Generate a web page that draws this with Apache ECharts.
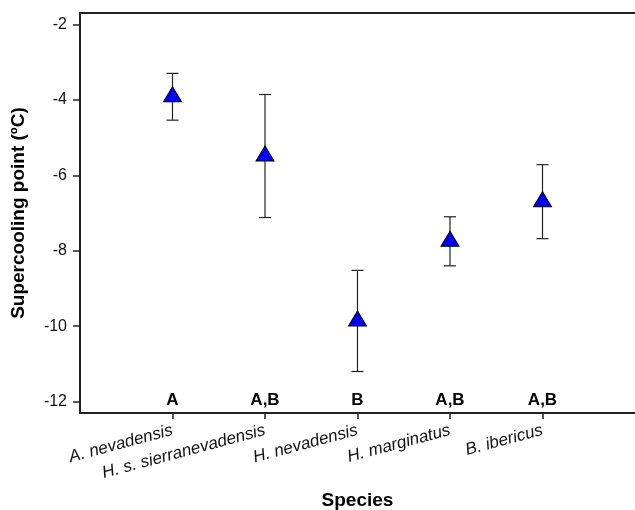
<!DOCTYPE html>
<html>
<head>
<meta charset="utf-8">
<script src="https://cdn.jsdelivr.net/npm/echarts@6/dist/echarts.min.js"></script>
<style>
  html, body { margin: 0; padding: 0; background: #fff; }
  #chart { width: 635px; height: 510px; }
</style>
</head>
<body>
<div id="chart"></div>
<script>
  // species on the x axis (positions 1..5)
  const species = ['A. nevadensis', 'H. s. sierranevadensis', 'H. nevadensis', 'H. marginatus', 'B. ibericus'];
  const positions = [1, 2, 3, 4, 5];
  // mean supercooling point and error (ºC)
  const means = [-3.92, -5.49, -9.86, -7.75, -6.70];
  const errors = [0.62, 1.63, 1.34, 0.65, 0.98];
  // letters of significance groups
  const groups = ['A', 'A,B', 'B', 'A,B', 'A,B'];
  const groupLevel = -12;
  const yTicks = [-12, -10, -8, -6, -4, -2];

  const font = 'Liberation Sans, Arial, sans-serif';
  const axisColor = '#222';

  const chart = echarts.init(document.getElementById('chart'));

  const pointData = positions.map((p, i) => [p, means[i]]);
  const errData = positions.map((p, i) => [p, means[i] - errors[i], means[i] + errors[i]]);
  const groupData = positions.map((p, i) => [p, groupLevel, groups[i]]);

  chart.setOption({
    animation: false,
    grid: { left: 80, right: 0, top: 13, bottom: 97, outerBoundsMode: 'none', containLabel: false },
    xAxis: [
      {
        type: 'value',
        min: 0,
        max: 6,
        name: 'Species',
        nameLocation: 'middle',
        nameGap: 78,
        nameTextStyle: { fontFamily: font, fontSize: 19, fontWeight: 'bold', color: '#000' },
        axisLine: { lineStyle: { color: axisColor, width: 2 } },
        axisTick: { customValues: positions, length: 6, lineStyle: { color: axisColor, width: 1.5 } },
        splitLine: { show: false },
        axisLabel: {
          customValues: positions,
          rotate: 15,
          margin: 17,
          fontFamily: font,
          fontSize: 17,
          fontStyle: 'italic',
          color: '#111',
          formatter: (v) => species[positions.indexOf(v)] || ''
        }
      },
      {
        type: 'value',
        position: 'top',
        min: 0,
        max: 6,
        axisLine: { show: true, lineStyle: { color: axisColor, width: 2 } },
        axisTick: { show: false },
        axisLabel: { show: false },
        splitLine: { show: false }
      }
    ],
    yAxis: {
      type: 'value',
      min: -12.3,
      max: -1.7,
      name: 'Supercooling point (ºC)',
      nameLocation: 'middle',
      nameGap: 52,
      nameTextStyle: { fontFamily: font, fontSize: 19, fontWeight: 'bold', color: '#000' },
      axisLine: { show: true, lineStyle: { color: axisColor, width: 2 } },
      axisTick: { customValues: yTicks, length: 7, lineStyle: { color: axisColor, width: 1.5 } },
      axisLabel: { customValues: yTicks, margin: 13, fontFamily: font, fontSize: 16, color: '#111' },
      splitLine: { show: false }
    },
    series: [
      {
        type: 'custom',
        z: 2,
        data: errData,
        renderItem: function (params, api) {
          const x = api.value(0);
          const lo = api.coord([x, api.value(1)]);
          const hi = api.coord([x, api.value(2)]);
          const hw = 6;
          const style = { stroke: '#222', lineWidth: 1.2 };
          return {
            type: 'group',
            children: [
              { type: 'line', shape: { x1: lo[0], y1: lo[1], x2: hi[0], y2: hi[1] }, style: style },
              { type: 'line', shape: { x1: lo[0] - hw, y1: lo[1], x2: lo[0] + hw, y2: lo[1] }, style: style },
              { type: 'line', shape: { x1: hi[0] - hw, y1: hi[1], x2: hi[0] + hw, y2: hi[1] }, style: style }
            ]
          };
        }
      },
      {
        type: 'scatter',
        z: 3,
        data: pointData,
        symbol: 'triangle',
        symbolSize: [18, 15],
        symbolOffset: [0, -2.5],
        itemStyle: { color: '#0000ff', borderColor: '#000', borderWidth: 1, opacity: 1 }
      },
      {
        // significance letters just above the x axis
        type: 'custom',
        z: 4,
        data: groupData,
        renderItem: function (params, api) {
          const pt = api.coord([api.value(0), api.value(1)]);
          return {
            type: 'text',
            x: pt[0],
            y: pt[1] - 1,
            style: {
              text: groups[params.dataIndex],
              fill: '#000',
              font: 'bold 17px ' + font,
              align: 'center',
              verticalAlign: 'middle'
            }
          };
        }
      }
    ]
  });
</script>
</body>
</html>
